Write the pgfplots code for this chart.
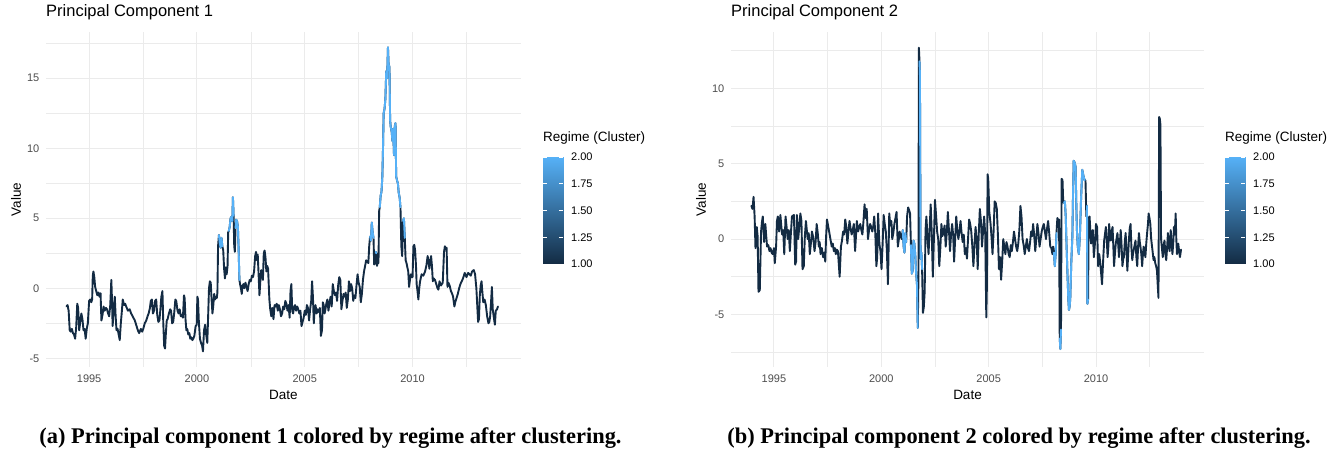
\documentclass[border=0pt]{standalone}
\usepackage{fontspec}
\setmainfont{Liberation Sans}
\newfontfamily\capfont{Liberation Serif}
\usepackage{pgfplots}
\usepackage{pgfplotstable}
\pgfplotsset{compat=1.18}
\definecolor{dark}{RGB}{19,43,67}
\definecolor{light}{RGB}{86,177,247}
\definecolor{gridc}{RGB}{235,235,235}
\definecolor{tickc}{RGB}{77,77,77}

\pgfplotstableread{
x y
1993.95 -1.3
1994.00 -1.2
1994.05 -1.6
1994.10 -3.0
1994.15 -3.1
1994.20 -2.9
1994.25 -3.2
1994.30 -3.3
1994.35 -3.6
1994.40 -2.8
1994.45 -1.1
1994.49 -1.4
1994.54 -3.0
1994.58 -2.5
1994.64 -1.8
1994.69 -2.2
1994.74 -3.0
1994.79 -2.9
1994.84 -3.6
1994.89 -2.9
1994.94 -2.5
1995.00 -0.9
1995.05 -0.8
1995.10 -1.0
1995.14 -0.8
1995.17 0.9
1995.20 1.2
1995.24 0.8
1995.28 0.1
1995.33 -0.2
1995.38 -0.5
1995.43 -0.3
1995.48 -0.6
1995.53 -0.35
1995.57 -2.3
1995.62 -1.9
1995.67 -1.3
1995.72 -1.6
1995.78 -1.4
1995.83 -1.5
1995.88 -1.8
1995.93 -2.0
1995.98 -1.2
1996.03 0.6
1996.06 -0.8
1996.09 -2.7
1996.14 -1.5
1996.19 -0.6
1996.23 -2.0
1996.27 -3.0
1996.32 -2.9
1996.37 -3.3
1996.42 -3.7
1996.47 -2.5
1996.52 -1.6
1996.56 -0.8
1996.62 -1.2
1996.67 -1.1
1996.72 -1.3
1996.80 -1.6
1996.88 -1.5
1996.95 -1.8
1997.02 -2.0
1997.12 -2.3
1997.20 -2.7
1997.26 -3.0
1997.32 -3.2
1997.40 -2.9
1997.46 -3.1
1997.51 -2.9
1997.58 -2.5
1997.65 -2.3
1997.71 -2.0
1997.76 -1.8
1997.82 -1.4
1997.86 -0.9
1997.91 -0.8
1997.96 -1.8
1998.01 -1.6
1998.06 -0.9
1998.11 -0.8
1998.16 -1.9
1998.21 -2.4
1998.26 -2.3
1998.30 -1.6
1998.35 -0.6
1998.40 -0.2
1998.44 -2.5
1998.48 -4.1
1998.52 -4.3
1998.56 -3.2
1998.60 -2.3
1998.64 -2.2
1998.70 -1.8
1998.76 -1.5
1998.80 -1.6
1998.85 -2.5
1998.90 -2.4
1998.95 -1.7
1999.00 -0.8
1999.04 -0.9
1999.10 -1.6
1999.15 -1.8
1999.20 -1.5
1999.25 -2.0
1999.30 -1.9
1999.35 -2.1
1999.40 -0.5
1999.43 -0.7
1999.47 -2.2
1999.51 -3.0
1999.55 -2.9
1999.60 -3.3
1999.65 -3.2
1999.69 -3.6
1999.74 -3.5
1999.79 -3.7
1999.83 -3.6
1999.88 -3.4
1999.94 -2.7
1999.99 -2.6
2000.02 -0.6
2000.05 -0.8
2000.09 -2.4
2000.14 -3.6
2000.19 -3.9
2000.24 -4.1
2000.28 -4.5
2000.33 -3.0
2000.38 -2.6
2000.42 -3.2
2000.48 -3.9
2000.52 -2.0
2000.56 0.0
2000.60 0.5
2000.64 0.4
2000.68 -0.8
2000.72 -1.8
2000.76 -1.2
2000.80 -0.4
2000.84 -0.8
2000.88 -0.6
2000.92 -0.7
2000.95 -0.3
2000.98 3.0
2001.02 3.8
2001.06 3.2
2001.10 2.9
2001.14 3.6
2001.18 3.0
2001.22 2.7
2001.26 1.4
2001.30 0.7
2001.34 1.5
2001.38 1.0
2001.42 1.6
2001.45 4.0
2001.48 4.1
2001.52 4.4
2001.56 5.0
2001.60 5.1
2001.64 4.8
2001.67 6.5
2001.70 5.2
2001.73 3.0
2001.76 2.6
2001.79 4.3
2001.82 4.9
2001.86 4.8
2001.90 4.4
2001.93 3.0
2001.97 0.6
2002.00 0.3
2002.04 0.0
2002.08 -0.4
2002.12 0.2
2002.16 0.3
2002.20 0.0
2002.25 0.4
2002.30 0.1
2002.35 -0.2
2002.40 0.3
2002.45 0.6
2002.50 0.5
2002.55 0.9
2002.60 0.8
2002.65 1.2
2002.70 2.3
2002.74 2.6
2002.78 2.0
2002.82 2.4
2002.86 1.0
2002.90 -0.5
2002.94 0.5
2002.98 1.3
2003.02 1.0
2003.06 0.6
2003.10 2.5
2003.14 2.7
2003.18 2.2
2003.22 1.2
2003.26 1.6
2003.30 1.4
2003.36 -0.8
2003.40 -1.5
2003.45 -2.0
2003.50 -1.4
2003.55 -2.2
2003.60 -1.2
2003.65 -1.3
2003.70 -1.1
2003.75 -1.6
2003.80 -1.2
2003.85 -1.5
2003.90 -2.0
2003.95 -1.8
2004.00 -1.3
2004.05 -1.5
2004.10 -0.9
2004.15 -1.1
2004.20 -1.6
2004.25 -1.2
2004.30 -2.1
2004.34 -0.2
2004.38 0.3
2004.42 -1.6
2004.46 -1.8
2004.50 -1.4
2004.55 -1.2
2004.60 -1.6
2004.65 -1.3
2004.70 -1.5
2004.75 -1.8
2004.80 -1.6
2004.85 -2.7
2004.90 -2.4
2004.95 -2.1
2005.00 -1.6
2005.05 -1.9
2005.10 -1.2
2005.15 -1.4
2005.20 -2.3
2005.25 -1.5
2005.30 -0.9
2005.34 0.5
2005.38 -0.6
2005.42 -2.5
2005.46 -1.5
2005.50 -1.2
2005.55 -1.8
2005.60 -1.5
2005.65 -1.7
2005.70 -1.4
2005.75 -3.4
2005.80 -3.0
2005.84 -1.0
2005.88 -1.2
2005.92 -1.8
2005.96 -1.5
2006.00 -1.1
2006.05 -0.8
2006.10 -1.6
2006.15 -1.0
2006.20 -0.6
2006.25 -1.3
2006.30 0.3
2006.35 -0.2
2006.40 -0.5
2006.45 -0.3
2006.50 -0.9
2006.55 0.2
2006.60 0.8
2006.65 0.6
2006.70 -1.5
2006.75 -0.9
2006.80 -0.4
2006.85 -0.6
2006.90 -0.3
2006.95 -1.4
2007.00 -0.8
2007.05 0.5
2007.10 -0.2
2007.15 0.3
2007.20 0.0
2007.25 -0.9
2007.30 -0.5
2007.35 -0.7
2007.40 0.2
2007.45 1.0
2007.50 0.4
2007.55 0.1
2007.60 -1.0
2007.65 -0.4
2007.70 0.6
2007.75 1.2
2007.80 1.6
2007.85 2.0
2007.90 1.9
2007.95 1.8
2007.99 3.0
2008.03 3.7
2008.07 3.4
2008.11 4.7
2008.15 4.0
2008.19 3.6
2008.22 1.7
2008.26 1.8
2008.29 2.6
2008.32 2.5
2008.35 1.6
2008.39 1.9
2008.42 1.8
2008.45 5.5
2008.48 5.8
2008.52 6.6
2008.56 6.9
2008.60 8.0
2008.63 10.0
2008.66 12.5
2008.70 12.8
2008.74 13.5
2008.78 15.5
2008.82 15.0
2008.86 17.2
2008.89 16.0
2008.93 15.8
2008.96 12.0
2008.99 11.5
2009.03 11.2
2009.07 10.5
2009.10 11.4
2009.14 9.5
2009.18 11.6
2009.21 11.8
2009.24 8.0
2009.28 7.7
2009.32 7.5
2009.36 6.8
2009.40 6.5
2009.44 5.8
2009.48 3.0
2009.52 2.3
2009.56 4.8
2009.60 5.0
2009.64 3.6
2009.68 2.0
2009.72 1.8
2009.76 1.5
2009.80 1.2
2009.84 0.1
2009.88 0.6
2009.92 1.0
2009.96 0.8
2010.00 0.8
2010.04 3.0
2010.08 3.1
2010.12 2.7
2010.16 1.6
2010.19 0.3
2010.23 -0.2
2010.27 -0.8
2010.31 0.0
2010.35 0.5
2010.42 1.0
2010.50 0.9
2010.58 1.2
2010.64 1.6
2010.70 2.3
2010.74 2.0
2010.78 1.4
2010.82 1.8
2010.86 2.3
2010.90 1.6
2010.94 0.5
2010.98 0.7
2011.04 0.6
2011.10 0.3
2011.16 0.0
2011.20 -0.1
2011.25 0.5
2011.32 0.2
2011.40 0.4
2011.46 2.6
2011.50 3.0
2011.54 2.8
2011.58 2.9
2011.62 0.1
2011.66 0.4
2011.72 0.2
2011.78 -0.2
2011.84 -0.4
2011.88 -0.6
2011.94 -1.3
2011.98 -1.0
2012.04 -0.7
2012.10 -0.4
2012.16 0.0
2012.22 0.3
2012.28 0.5
2012.34 0.7
2012.42 1.1
2012.50 0.8
2012.58 1.1
2012.64 1.0
2012.70 0.9
2012.76 1.2
2012.84 1.3
2012.90 1.0
2012.96 0.0
2013.00 -1.2
2013.04 -2.4
2013.08 -2.2
2013.12 -0.5
2013.16 0.2
2013.20 0.5
2013.24 -0.3
2013.28 -1.0
2013.34 -0.8
2013.40 -1.2
2013.46 -2.0
2013.52 -2.5
2013.56 -2.4
2013.60 -2.0
2013.64 -1.0
2013.68 0.1
2013.72 -1.5
2013.78 -2.2
2013.82 -2.6
2013.86 -1.6
2013.92 -1.5
2013.96 -1.3
}\pcone

\pgfplotstableread{
x y
1993.95 2.2
1994.00 2.0
1994.05 2.8
1994.10 1.5
1994.14 -0.6
1994.20 0.8
1994.24 0.2
1994.28 -3.5
1994.34 -3.4
1994.40 0.5
1994.44 1.1
1994.48 1.5
1994.54 -0.2
1994.60 1.0
1994.64 0.2
1994.68 -0.5
1994.74 -0.4
1994.79 -0.8
1994.84 -0.6
1994.89 -0.9
1994.94 -1.0
1995.00 -0.6
1995.04 -1.6
1995.10 -0.5
1995.14 1.2
1995.18 1.5
1995.24 0.5
1995.30 1.6
1995.34 0.9
1995.38 0.3
1995.43 0.6
1995.48 -1.0
1995.54 1.5
1995.59 0.8
1995.64 0.0
1995.69 0.6
1995.74 -0.8
1995.79 0.4
1995.84 1.5
1995.93 1.6
1995.99 -1.7
1996.03 -1.5
1996.07 1.6
1996.13 0.0
1996.18 0.8
1996.23 1.7
1996.28 1.2
1996.33 -2.0
1996.39 -1.8
1996.44 0.2
1996.49 1.2
1996.53 0.6
1996.57 0.0
1996.62 0.4
1996.67 -1.0
1996.72 -0.3
1996.77 0.5
1996.83 0.1
1996.89 -0.8
1996.94 -0.2
1996.99 1.0
1997.04 0.4
1997.09 -0.5
1997.13 -0.2
1997.17 -1.0
1997.23 -0.6
1997.29 -1.2
1997.34 -0.9
1997.39 -1.5
1997.43 0.2
1997.47 1.3
1997.52 0.9
1997.57 0.5
1997.63 0.0
1997.69 -0.5
1997.74 -0.3
1997.79 -0.8
1997.84 -0.6
1997.88 -1.0
1997.93 -0.7
1997.98 -0.8
1998.06 -2.5
1998.12 -0.5
1998.17 -0.1
1998.22 0.5
1998.27 0.3
1998.32 1.3
1998.37 0.8
1998.42 -0.3
1998.47 0.5
1998.52 1.2
1998.57 0.7
1998.62 0.3
1998.67 0.6
1998.72 1.0
1998.78 -0.8
1998.82 0.2
1998.86 1.2
1998.92 0.5
1998.97 0.8
1999.02 1.0
1999.07 0.6
1999.12 0.3
1999.17 1.2
1999.22 2.3
1999.27 1.4
1999.32 2.0
1999.38 0.0
1999.43 0.6
1999.48 1.0
1999.53 0.8
1999.58 0.5
1999.63 0.9
1999.67 1.5
1999.72 0.4
1999.77 -1.8
1999.81 -1.2
1999.85 1.7
1999.91 -0.3
1999.96 -0.8
2000.01 -2.0
2000.06 -0.4
2000.11 1.6
2000.16 1.0
2000.21 0.5
2000.26 -0.8
2000.31 -3.0
2000.37 1.7
2000.42 0.9
2000.47 1.2
2000.51 0.0
2000.56 0.4
2000.61 1.0
2000.66 1.4
2000.71 1.8
2000.77 -0.5
2000.81 -0.1
2000.85 0.5
2000.90 0.2
2000.95 0.0
2001.00 0.6
2001.04 -0.5
2001.08 -0.9
2001.12 0.4
2001.16 -0.2
2001.20 1.5
2001.25 2.1
2001.30 1.9
2001.34 1.7
2001.38 -0.4
2001.42 -2.3
2001.46 -2.1
2001.50 -0.1
2001.54 -0.3
2001.58 -1.0
2001.62 -2.2
2001.66 -3.0
2001.70 -5.9
2001.73 -2.5
2001.75 12.7
2001.78 11.8
2001.80 10.9
2001.83 -1.3
2001.87 -0.9
2001.90 -2.0
2001.94 -4.9
2001.98 -4.5
2002.02 -3.5
2002.06 0.6
2002.10 1.5
2002.15 0.2
2002.20 -1.0
2002.25 0.6
2002.30 2.3
2002.35 0.4
2002.40 -2.5
2002.45 0.0
2002.50 2.6
2002.55 1.6
2002.60 0.5
2002.65 0.0
2002.70 -1.8
2002.75 -0.6
2002.80 1.0
2002.85 0.2
2002.90 0.5
2002.95 0.9
2003.00 -0.5
2003.05 0.4
2003.10 1.8
2003.15 0.6
2003.20 -0.8
2003.25 0.3
2003.30 1.0
2003.35 0.2
2003.39 -1.5
2003.44 0.0
2003.49 1.5
2003.54 0.6
2003.59 0.0
2003.64 0.5
2003.69 1.2
2003.74 0.4
2003.79 -0.2
2003.84 0.3
2003.89 -1.0
2003.94 -0.6
2003.99 -1.3
2004.04 0.0
2004.09 1.3
2004.14 1.0
2004.19 0.5
2004.24 -0.5
2004.29 -1.8
2004.34 -0.4
2004.39 0.8
2004.44 0.0
2004.49 -2.0
2004.54 0.4
2004.59 2.0
2004.64 1.2
2004.69 -0.5
2004.74 0.5
2004.79 1.5
2004.84 0.3
2004.89 -5.2
2004.92 -3.0
2004.95 4.3
2004.98 4.0
2005.03 1.8
2005.09 1.0
2005.14 0.0
2005.18 -1.0
2005.23 0.5
2005.28 2.5
2005.33 2.4
2005.38 2.0
2005.43 0.3
2005.48 -2.0
2005.53 -1.2
2005.58 -2.7
2005.63 -1.5
2005.68 0.0
2005.73 -0.5
2005.78 -1.0
2005.83 -0.2
2005.88 -0.5
2005.93 -1.0
2005.98 -1.2
2006.03 -0.4
2006.08 -0.8
2006.13 -0.2
2006.18 0.5
2006.23 0.0
2006.28 -0.5
2006.33 -0.8
2006.38 -0.3
2006.43 0.6
2006.48 2.2
2006.53 1.5
2006.58 0.0
2006.63 -0.4
2006.68 -1.0
2006.73 -0.5
2006.78 0.0
2006.83 -0.6
2006.88 -0.8
2006.93 -0.2
2006.98 0.5
2007.03 0.2
2007.07 1.0
2007.12 0.3
2007.17 -0.8
2007.22 0.0
2007.27 1.0
2007.32 0.4
2007.37 -0.5
2007.42 0.0
2007.47 0.5
2007.52 0.8
2007.57 1.0
2007.62 0.5
2007.67 0.0
2007.72 0.7
2007.77 1.2
2007.82 0.4
2007.87 -0.5
2007.92 -0.6
2007.97 -1.0
2008.00 -0.5
2008.04 -0.9
2008.08 -1.8
2008.12 -1.0
2008.16 0.4
2008.20 1.4
2008.24 1.2
2008.28 1.3
2008.31 -6.6
2008.34 -7.3
2008.37 -6.0
2008.40 4.0
2008.44 3.9
2008.47 2.6
2008.51 2.4
2008.55 2.5
2008.59 1.5
2008.63 -0.5
2008.67 -2.3
2008.71 -4.0
2008.74 -4.7
2008.77 -4.5
2008.80 -4.0
2008.85 -1.5
2008.90 0.2
2008.93 3.0
2008.96 5.2
2009.00 5.1
2009.05 4.8
2009.08 2.5
2009.11 0.6
2009.15 -0.5
2009.20 -1.0
2009.23 -0.3
2009.26 0.6
2009.30 2.5
2009.36 4.6
2009.40 4.3
2009.43 4.1
2009.47 3.9
2009.51 3.9
2009.55 1.5
2009.58 2.2
2009.60 -4.3
2009.63 -4.0
2009.66 1.4
2009.70 1.5
2009.77 -0.3
2009.81 0.3
2009.85 0.6
2009.90 -1.2
2009.95 -0.3
2010.00 1.0
2010.05 0.8
2010.10 -1.8
2010.15 -1.0
2010.20 -1.6
2010.28 -3.0
2010.33 -1.5
2010.38 -0.1
2010.46 0.8
2010.50 0.0
2010.54 -1.2
2010.58 -0.4
2010.61 1.0
2010.66 0.2
2010.69 -0.1
2010.73 0.5
2010.77 0.8
2010.81 -0.6
2010.84 -1.8
2010.88 -1.0
2010.92 -0.3
2011.00 0.4
2011.04 -0.5
2011.07 -1.2
2011.11 -0.3
2011.15 0.6
2011.19 -0.4
2011.23 -1.8
2011.27 -1.3
2011.30 -1.2
2011.34 -0.2
2011.38 0.4
2011.42 -0.8
2011.46 -2.1
2011.50 -1.0
2011.53 -0.1
2011.57 0.7
2011.61 1.0
2011.65 -0.6
2011.69 -1.4
2011.72 -1.0
2011.76 -0.7
2011.80 -0.4
2011.84 -0.1
2011.88 -1.2
2011.92 -1.8
2011.96 -0.5
2012.00 0.4
2012.04 -0.2
2012.07 -0.5
2012.11 -1.0
2012.15 -1.8
2012.19 -0.9
2012.22 -0.5
2012.26 -0.8
2012.30 -1.2
2012.34 -0.3
2012.38 0.4
2012.42 1.0
2012.45 1.7
2012.49 1.4
2012.53 1.0
2012.57 0.0
2012.61 -0.5
2012.65 -1.0
2012.68 -1.4
2012.72 -1.2
2012.76 -1.6
2012.80 -1.8
2012.84 -2.1
2012.88 -3.2
2012.91 -3.9
2012.94 8.1
2012.97 8.0
2013.00 7.6
2013.03 0.0
2013.07 -0.6
2013.11 -1.2
2013.15 -0.4
2013.19 -0.1
2013.23 -1.0
2013.27 -1.4
2013.31 -0.6
2013.35 0.4
2013.39 -0.5
2013.43 -0.8
2013.48 0.6
2013.52 -0.3
2013.56 -1.0
2013.60 -0.2
2013.63 0.8
2013.67 0.3
2013.71 1.7
2013.74 0.0
2013.77 -1.0
2013.80 -0.6
2013.83 -0.3
2013.87 -0.8
2013.91 -1.2
2013.96 -0.7
}\pctwo

\pgfplotsset{
  pcaxis/.style={
    scale only axis, height=335pt,
    xmin=1993, xmax=2015.03,
    axis line style={draw=none},
    major tick length=0pt, minor tick length=0pt,
    xtick={1995,2000,2005,2010},
    minor xtick={1997.5,2002.5,2007.5,2012.5},
    grid=both,
    major grid style={draw=gridc, line width=1pt},
    minor grid style={draw=gridc, line width=0.6pt},
    tick label style={font=\fontsize{11}{13}\selectfont, text=tickc},
    xticklabel style={anchor=north, inner sep=0pt, yshift=-8pt},
    yticklabel style={anchor=east, inner sep=0pt, xshift=-6.5pt},
    /pgf/number format/assume math mode=true,
    /pgf/number format/1000 sep={},
    xlabel={Date}, ylabel={Value},
    label style={font=\fontsize{13.5}{15}\selectfont},
    xlabel style={at={([yshift=-28pt]axis description cs:0.5,0)}, anchor=center},
    ylabel style={at={([xshift=-30pt]axis description cs:0,0.5)}, anchor=center},
    title style={at={([yshift=9pt]axis description cs:0,1)}, anchor=base west, inner sep=0pt, font=\fontsize{16.5}{18}\selectfont},
  },
  cbstyle/.style={
    scale only axis, width=20pt, height=107pt,
    anchor=north west,
    xmin=0, xmax=1, ymin=1, ymax=2,
    enlargelimits=false,
    axis line style={draw=none},
    axis on top,
    xtick=\empty,
    ytick={1,1.25,1.5,1.75,2},
    yticklabels={1.00,1.25,1.50,1.75,2.00},
    ytick pos=both, yticklabel pos=right,
    tick align=inside, major tick length=4pt,
    major tick style={draw=white, line width=0.8pt},
    tick label style={font=\fontsize{11}{13}\selectfont, text=black},
    yticklabel style={anchor=west, inner sep=0pt, xshift=8pt},
    title={Regime (Cluster)},
    title style={at={([yshift=9pt]axis description cs:0,1)}, anchor=base west, inner sep=0pt, font=\fontsize{13.5}{15}\selectfont},
    colormap={gg}{rgb255(0cm)=(19,43,67); rgb255(1cm)=(86,177,247)},
    point meta min=1, point meta max=2,
  },
  pcline/.style={line width=1.9pt, line join=round, line cap=round, no markers},
}

\begin{document}
\begin{tikzpicture}
\path[use as bounding box] (0,0) rectangle (1344pt,450pt);

\begin{axis}[pcaxis, width=475pt, at={(46pt,83pt)}, anchor=south west,
  ymin=-5.62, ymax=18.3,
  ytick={-5,0,5,10,15}, minor ytick={-2.5,2.5,7.5,12.5,17.5},
  title={Principal Component 1}]
\addplot[pcline, dark] table {\pcone};
\addplot[pcline, light, restrict x to domain=2001.01:2001.19] table {\pcone};
\addplot[pcline, light, restrict x to domain=2001.47:2001.71] table {\pcone};
\addplot[pcline, light, restrict x to domain=2001.78:2001.98] table {\pcone};
\addplot[pcline, light, restrict x to domain=2008.02:2008.20] table {\pcone};
\addplot[pcline, light, restrict x to domain=2008.28:2008.33] table {\pcone};
\addplot[pcline, light, restrict x to domain=2008.47:2009.45] table {\pcone};
\addplot[pcline, light, restrict x to domain=2009.55:2009.66] table {\pcone};
\end{axis}

\begin{axis}[cbstyle, at={(543pt,293pt)}]
\addplot[surf, shader=interp, mesh/rows=2, point meta=y] coordinates {(0,1) (1,1) (0,2) (1,2)};
\end{axis}

\begin{axis}[pcaxis, width=473pt, at={(731pt,83pt)}, anchor=south west,
  ymin=-8.49, ymax=13.74,
  ytick={-5,0,5,10}, minor ytick={-7.5,-2.5,2.5,7.5,12.5},
  title={Principal Component 2}]
\addplot[pcline, dark] table {\pctwo};
\addplot[pcline, light, restrict x to domain=2000.99:2001.17] table {\pctwo};
\addplot[pcline, light, restrict x to domain=2001.37:2001.71] table {\pctwo};
\addplot[pcline, light, restrict x to domain=2001.79:2001.91] table {\pctwo};
\addplot[pcline, light, restrict x to domain=2008.03:2008.17] table {\pctwo};
\addplot[pcline, light, restrict x to domain=2008.32:2008.38] table {\pctwo};
\addplot[pcline, light, restrict x to domain=2008.50:2009.48] table {\pctwo};
\addplot[pcline, light, restrict x to domain=2009.57:2009.64] table {\pctwo};
\end{axis}

\begin{axis}[cbstyle, at={(1225pt,293pt)}]
\addplot[surf, shader=interp, mesh/rows=2, point meta=y] coordinates {(0,1) (1,1) (0,2) (1,2)};
\end{axis}

\node[anchor=base, inner sep=0pt, font=\capfont\bfseries\fontsize{22.4}{26}\selectfont] at (330.5pt,7pt) {(a) Principal component 1 colored by regime after clustering.};
\node[anchor=base, inner sep=0pt, font=\capfont\bfseries\fontsize{22.4}{26}\selectfont] at (1019pt,7pt) {(b) Principal component 2 colored by regime after clustering.};
\end{tikzpicture}
\end{document}
